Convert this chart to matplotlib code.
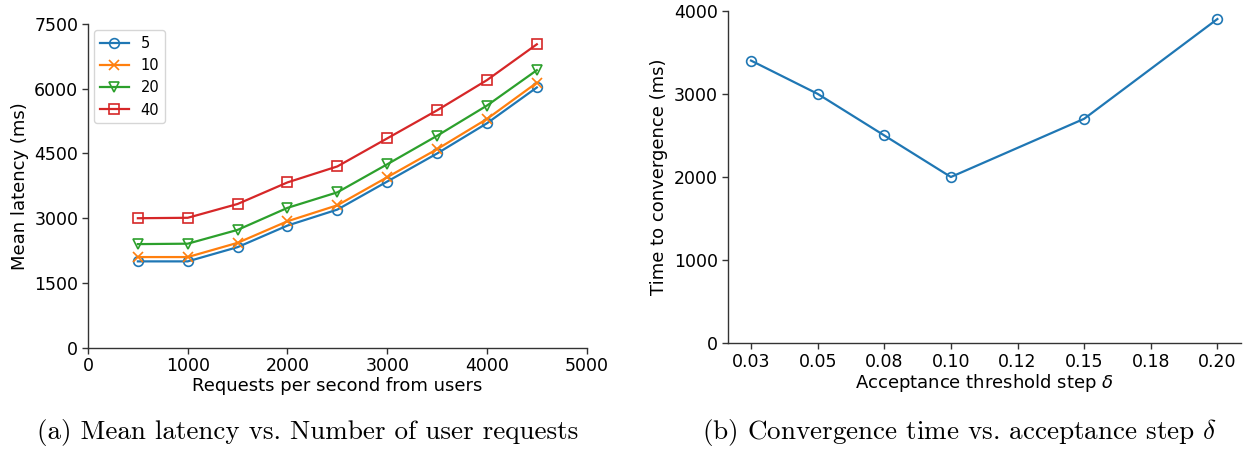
import matplotlib
matplotlib.use("Agg")
import matplotlib.pyplot as plt

# ---- data: panel (a) ----
requests = [500, 1000, 1500, 2000, 2500, 3000, 3500, 4000, 4500]
lat_5 = [2000, 2000, 2330, 2830, 3200, 3850, 4500, 5200, 6030]
lat_10 = [2100, 2100, 2430, 2930, 3300, 3950, 4600, 5300, 6140]
lat_20 = [2400, 2410, 2730, 3240, 3600, 4250, 4910, 5610, 6430]
lat_40 = [3000, 3010, 3330, 3830, 4200, 4850, 5500, 6200, 7030]
series_labels = ["5", "10", "20", "40"]
a_yticks = [0, 1500, 3000, 4500, 6000, 7500]
a_xticks = [0, 1000, 2000, 3000, 4000, 5000]

# ---- data: panel (b) ----
delta = [0.025, 0.05, 0.075, 0.10, 0.15, 0.20]
conv_time = [3400, 3000, 2500, 2000, 2700, 3900]
b_xticks = [0.025, 0.05, 0.075, 0.10, 0.125, 0.15, 0.175, 0.20]
b_xticklabels = ["0.03", "0.05", "0.08", "0.10", "0.12", "0.15", "0.18", "0.20"]
b_yticks = [0, 1000, 2000, 3000, 4000]

plt.rcParams["font.family"] = "DejaVu Sans"
plt.rcParams["mathtext.fontset"] = "dejavusans"
TFS = 12.5
LFS = 13
spine_col = "#333333"

fig = plt.figure(figsize=(12.53, 4.53), dpi=100)
W, H = 1253, 453

def axes_px(l, r, t, b):
    return fig.add_axes([l / W, 1 - b / H, (r - l) / W, (b - t) / H])

def style(ax):
    for s in ["top", "right"]:
        ax.spines[s].set_visible(False)
    for s in ["left", "bottom"]:
        ax.spines[s].set_color(spine_col)
        ax.spines[s].set_linewidth(1.0)
    ax.tick_params(labelsize=TFS, length=4, width=1, color=spine_col, pad=3)

# ---- panel (a) ----
ax1 = axes_px(88, 586.7, 24, 347.7)
colors = ["#1f77b4", "#ff7f0e", "#2ca02c", "#d62728"]
markers = ["o", "x", "v", "s"]
for ys, lab, c, m in zip([lat_5, lat_10, lat_20, lat_40], series_labels, colors, markers):
    ax1.plot(requests, ys, color=c, marker=m, markersize=7, mfc="none",
             mec=c, mew=1.2, lw=1.6, label=lab)
ax1.set_xlim(0, 5000)
ax1.set_ylim(0, 7500)
ax1.set_xticks(a_xticks)
ax1.set_yticks(a_yticks)
ax1.set_xlabel("Requests per second from users", fontsize=LFS, labelpad=1)
ax1.set_ylabel("Mean latency (ms)", fontsize=LFS, labelpad=4)
style(ax1)
leg = ax1.legend(loc="upper left", fontsize=10.5, frameon=True, fancybox=True,
                 bbox_to_anchor=(0.0, 1.0), borderaxespad=0.4)
leg.get_frame().set_edgecolor("#cccccc")

# ---- panel (b) ----
ax2 = axes_px(727.7, 1240.7, 10.7, 343.3)
ax2.plot(delta, conv_time, color="#1f77b4", marker="o", markersize=7, mfc="none",
         mec="#1f77b4", mew=1.2, lw=1.6)
ax2.set_ylim(0, 4000)
ax2.set_yticks(b_yticks)
ax2.set_xticks(b_xticks)
ax2.set_xticklabels(b_xticklabels)
ax2.set_xlabel(r"Acceptance threshold step $\delta$", fontsize=LFS, labelpad=1)
ax2.set_ylabel("Time to convergence (ms)", fontsize=LFS, labelpad=4)
style(ax2)

# ---- captions ----
fig.text(308 / W, 1 - 433 / H, "(a) Mean latency vs. Number of user requests",
         ha="center", va="center", fontsize=19.5, family="cmr10")
fig.text(960 / W, 1 - 433 / H, r"(b) Convergence time vs. acceptance step $\delta$",
         ha="center", va="center", fontsize=19.5, family="cmr10",
         math_fontfamily="cm")

fig.savefig("out.png", dpi=100)
